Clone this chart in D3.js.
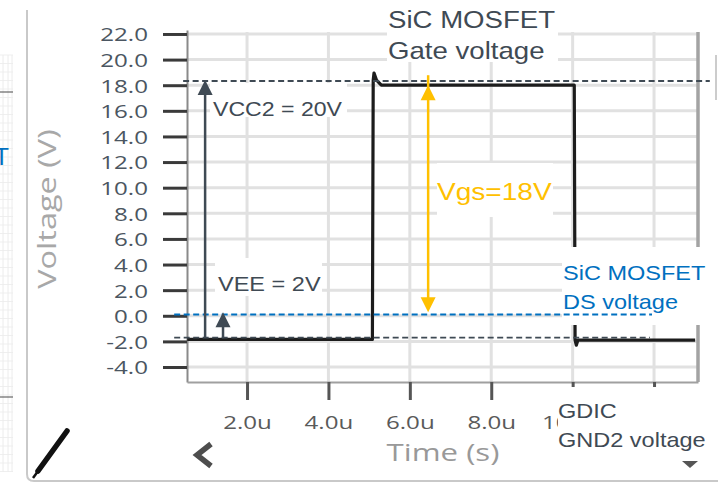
<!DOCTYPE html>
<html>
<head>
<meta charset="utf-8">
<script src="https://cdn.jsdelivr.net/npm/d3@7"></script>
<style>
html, body { margin: 0; padding: 0; background: #fff; }
svg { display: block; }
</style>
</head>
<body>
<div id="chart"></div>
<script>
// values: time in microseconds, volts
var yTicks = [-4, -2, 0, 2, 4, 6, 8, 10, 12, 14, 16, 18, 20, 22];
var xTicks = [2, 4, 6, 8, 10, 12];
var xHiddenLabels = [12]; // sits under the GDIC note in the capture

// gate voltage trace
var waveT = [0.53, 5.08, 5.10, 5.12, 5.18, 5.30, 10.04, 10.06, 10.09, 10.13, 13.01];
var waveV = [-1.85, -1.85, 18.4, 18.95, 18.4, 18.0, 18.0, -1.9, -2.3, -1.9, -1.9];

// dashed reference levels
var refV  = [18.33, -1.7, 0.1];
var refT0 = [0.43, 0.21, 0.21];
var refT1 = [13.37, 11.9, 11.95];
var refColor = ["#3f4a54", "#3f4a54", "#0070c0"];

// arrows: x position, from, to, two-headed?
var arrowT  = [0.97, 1.41, 6.45];
var arrowV0 = [-1.75, -1.75, 18.0];
var arrowV1 = [18.4, 0.28, 0.28];
var arrowBoth = [false, false, true];
var arrowColor = ["#3f4a54", "#3f4a54", "#ffc000"];

var w = 718, h = 483;
var plot = {left: 187, right: 698, top: 30, bottom: 382};

var svg = d3.select("#chart").append("svg")
    .attr("width", w)
    .attr("height", h);

svg.append("rect").attr("width", w).attr("height", h).attr("fill", "#fff");

svg.append("defs").append("clipPath").attr("id", "tick-clip")
    .append("rect").attr("x", -400).attr("y", -10).attr("width", 400 + 558).attr("height", 120);

var xScale = d3.scaleLinear()
    .domain([0.525, 13.08])
    .range([plot.left, plot.right]);
var yScale = d3.scaleLinear()
    .domain([-5.17, 22.31])
    .range([plot.bottom, plot.top]);

var sans = "'Liberation Sans', Arial, sans-serif";
var ui = "'Open Sans', 'DejaVu Sans', sans-serif";

function txt(g, s, x, y, o) {
    return g.append("text")
        .attr("transform", `translate(${x},${y}) ${o.rot ? "rotate(" + o.rot + ") " : ""}scale(${o.sx || 1},1)`)
        .attr("font-family", o.font || sans)
        .attr("font-size", o.size)
        .attr("fill", o.color)
        .attr("text-anchor", o.anchor || "start")
        .text(s);
}

// --- window chrome and the neighbouring panel on the left
var chrome = svg.append("g").attr("id", "chrome");
for (var gy = 55; gy < 472; gy += 8.5) {
    chrome.append("line").attr("x1", 0).attr("x2", 13).attr("y1", gy).attr("y2", gy)
        .attr("stroke", "#efefef").attr("stroke-width", 1);
}
[3, 8, 12].forEach(gx => {
    chrome.append("line").attr("x1", gx).attr("x2", gx).attr("y1", 55).attr("y2", 472)
        .attr("stroke", "#ececec").attr("stroke-width", 1);
});
[92, 397].forEach(gy => {
    chrome.append("line").attr("x1", 0).attr("x2", 13).attr("y1", gy).attr("y2", gy)
        .attr("stroke", "#666").attr("stroke-width", 1.2);
});
txt(chrome, "T", 9, 165, {size: 24, color: "#0070c0", anchor: "end"});

chrome.append("path")
    .attr("d", "M27,10 V474 Q27,481 34,481 H718")
    .attr("fill", "none").attr("stroke", "#c9c9c9").attr("stroke-width", 2);
chrome.append("line").attr("x1", 716).attr("x2", 716).attr("y1", 55).attr("y2", 100)
    .attr("stroke", "#ccc").attr("stroke-width", 2);
// pen icon
chrome.append("line").attr("x1", 38).attr("y1", 471).attr("x2", 67).attr("y2", 431)
    .attr("stroke", "#111").attr("stroke-width", 5.5).attr("stroke-linecap", "round");
chrome.append("line").attr("x1", 33).attr("y1", 478).attr("x2", 41).attr("y2", 467)
    .attr("stroke", "#111").attr("stroke-width", 2.5);
// back chevron
chrome.append("polyline").attr("points", "211,444 197,455 211,466")
    .attr("fill", "none").attr("stroke", "#4d4d4d").attr("stroke-width", 5.5);
// dropdown caret
chrome.append("path").attr("d", "M682,461 L698,461 L690,468 Z").attr("fill", "#555");

// --- grid
var grid = svg.append("g").attr("id", "grid");
grid.selectAll(".hgrid").data(yTicks).enter().append("line")
    .attr("class", "hgrid")
    .attr("x1", plot.left).attr("x2", plot.right)
    .attr("y1", d => yScale(d)).attr("y2", d => yScale(d))
    .attr("stroke", "#e1e1e1").attr("stroke-width", 3);
grid.selectAll(".vgrid").data(xTicks).enter().append("line")
    .attr("class", "vgrid")
    .attr("x1", d => xScale(d)).attr("x2", d => xScale(d))
    .attr("y1", plot.top + 2).attr("y2", plot.bottom)
    .attr("stroke", "#e1e1e1").attr("stroke-width", 3);
grid.append("line")
    .attr("x1", plot.right).attr("x2", plot.right)
    .attr("y1", plot.top + 2).attr("y2", plot.bottom)
    .attr("stroke", "#a3a3a3").attr("stroke-width", 3.5);

// --- axes
var yAxis = d3.axisLeft(yScale)
    .tickValues(yTicks)
    .tickSize(24)
    .tickSizeOuter(0)
    .tickFormat(d => d3.format(".1f")(d).replace("\u2212", "-"));
var gy = svg.append("g")
    .attr("transform", `translate(${plot.left},0)`)
    .call(yAxis);
gy.select(".domain").attr("stroke", "#8a8a8a").attr("stroke-width", 2);
gy.selectAll(".tick line").attr("stroke", "#3a3a3a").attr("stroke-width", 3);
gy.selectAll(".tick text")
    .attr("x", null).attr("dy", "0.36em")
    .attr("transform", "translate(-39,0) scale(1.27,1)")
    .attr("text-anchor", "end")
    .attr("font-family", ui).attr("font-size", 19)
    .attr("fill", "#4b5661");

var xAxis = d3.axisBottom(xScale)
    .tickValues(xTicks)
    .tickSize(18)
    .tickSizeOuter(0)
    .tickFormat(d => xHiddenLabels.indexOf(d) >= 0 ? "" : d.toFixed(1) + "u");
var gx = svg.append("g")
    .attr("transform", `translate(0,${plot.bottom})`)
    .call(xAxis);
gx.select(".domain").attr("stroke", "#a0a0a0").attr("stroke-width", 2);
gx.selectAll(".tick line").attr("stroke", "#555").attr("stroke-width", 3);
gx.selectAll(".tick text")
    .attr("y", null).attr("dy", null)
    .attr("transform", "translate(0,47) scale(1.27,1)")
    .attr("font-family", ui).attr("font-size", 19)
    .attr("fill", "#5a5a5a");
// the note box cuts the 10.0u label in the capture
gx.selectAll(".tick")
    .filter(d => d === 10)
    .select("text")
    .attr("clip-path", "url(#tick-clip-10)");
svg.select("defs").append("clipPath").attr("id", "tick-clip-10")
    .attr("clipPathUnits", "userSpaceOnUse")
    .append("rect").attr("x", -40).attr("y", -30).attr("width", (558 - xScale(10)) / 1.27 + 40).attr("height", 80);

txt(svg, "Time (s)", 443, 461, {font: ui, size: 24, sx: 1.3, color: "#999", anchor: "middle"});
txt(svg, "Voltage (V)", 56, 209, {font: ui, size: 25, sx: 1.3, rot: -90, color: "#a8a8a8", anchor: "middle"});

// --- gate voltage trace
var wave = waveT.map((t, i) => ({t: t, v: waveV[i]}));
var line = d3.line().x(d => xScale(d.t)).y(d => yScale(d.v));
svg.append("path")
    .datum(wave)
    .attr("d", line)
    .attr("fill", "none")
    .attr("stroke", "#1c1c1c")
    .attr("stroke-width", 3.2)
    .attr("stroke-linejoin", "round");

// --- white label backgrounds
var boxes = svg.append("g").attr("id", "label-boxes");
[[387, 0, 171, 62], [210, 83, 137, 34], [215, 258, 107, 38],
 [437, 163, 116, 54], [562, 247, 156, 78], [558, 387, 160, 71]].forEach(b => {
    boxes.append("rect").attr("x", b[0]).attr("y", b[1])
        .attr("width", b[2]).attr("height", b[3]).attr("fill", "#fff");
});

// --- reference levels
refV.forEach((v, i) => {
    svg.append("line")
        .attr("x1", xScale(refT0[i])).attr("x2", xScale(refT1[i]))
        .attr("y1", yScale(v)).attr("y2", yScale(v))
        .attr("stroke", refColor[i])
        .attr("stroke-width", i === 1 ? 1.8 : 2.2)
        .attr("stroke-dasharray", "6,3.5");
});

// --- arrows
function head(g, x, yTip, dir, color) {
    // dir -1 = pointing up, +1 = pointing down
    var hl = 15, hw = 7.5;
    g.append("path")
        .attr("d", `M${x},${yTip} L${x - hw},${yTip - dir * hl} L${x + hw},${yTip - dir * hl} Z`)
        .attr("fill", color);
}
arrowT.forEach((t, i) => {
    var x = xScale(t), y0 = yScale(arrowV0[i]), y1 = yScale(arrowV1[i]);
    var dir = y1 < y0 ? -1 : 1;
    svg.append("line")
        .attr("x1", x).attr("x2", x)
        .attr("y1", arrowBoth[i] ? y0 - dir * 10 : y0).attr("y2", y1 - dir * 10)
        .attr("stroke", arrowColor[i]).attr("stroke-width", 2.5);
    head(svg, x, y1, dir, arrowColor[i]);
    if (arrowBoth[i]) head(svg, x, y0, -dir, arrowColor[i]);
});

// --- annotation texts
var ink = "#3f4a54";
txt(svg, "SiC MOSFET", 388, 28, {size: 24, sx: 1.15, color: ink});
txt(svg, "Gate voltage", 388, 59, {size: 24, sx: 1.15, color: ink});
txt(svg, "VCC2 = 20V", 213, 116, {size: 21, sx: 1.1, color: ink});
txt(svg, "VEE = 2V", 218, 291, {size: 21, sx: 1.12, color: ink});
txt(svg, "Vgs=18V", 437, 200, {size: 24, sx: 1.17, color: "#ffc000"});
txt(svg, "SiC MOSFET", 563, 280, {size: 21, sx: 1.12, color: "#0070c0"});
txt(svg, "DS voltage", 563, 309, {size: 21, sx: 1.12, color: "#0070c0"});
txt(svg, "GDIC", 558, 418, {size: 21, sx: 1.12, color: ink});
txt(svg, "GND2 voltage", 558, 447, {size: 21, sx: 1.12, color: ink});
</script>
</body>
</html>
